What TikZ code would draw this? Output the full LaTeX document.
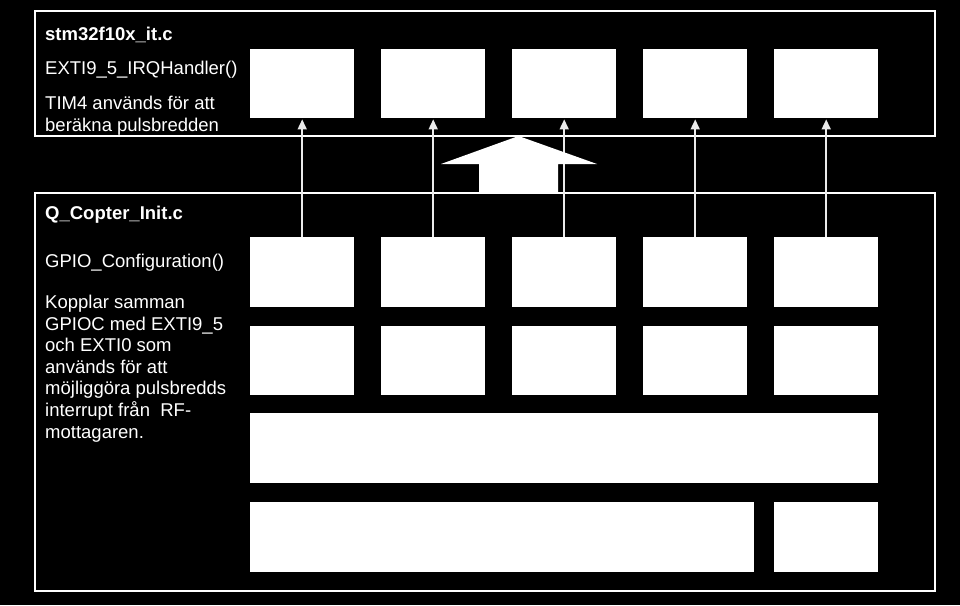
\documentclass[tikz,border=0pt]{standalone}
\usepackage{fontspec}
\setmainfont{Liberation Sans}
\usetikzlibrary{arrows.meta}
\begin{document}
\begin{tikzpicture}[x=1pt,y=-1pt,
  frame/.style={draw=white,line width=2pt},
  wbox/.style={fill=white,draw=none,inner sep=0pt,anchor=north west},
  lbl/.style={text=white,anchor=base west,inner sep=0pt,font=\fontsize{18.5}{21.6}\selectfont,align=left},
  conn/.style={draw=white!92!black,line width=1.6pt,-{Triangle[width=9pt,length=10pt]},shorten >=1pt}
]
\fill[black] (0,0) rectangle (960,605);
\useasboundingbox (0,0) rectangle (960,605);
% frames
\draw[frame] (35,11) rectangle (935,136);
\draw[frame] (35,193) rectangle (935,591);
% texts (base anchor of a multi-line node = baseline of its last line)
\node[lbl,font=\fontsize{18.5}{21.6}\selectfont\bfseries] (t1) at (45,40) {stm32f10x\_it.c};
\node[lbl] (t2) at (45,74) {EXTI9\_5\_IRQHandler()};
\node[lbl] (t3) at (45,131) {TIM4 används för att\\beräkna pulsbredden};
\node[lbl,font=\fontsize{18.5}{21.6}\selectfont\bfseries] (t4) at (45,219) {Q\_Copter\_Init.c};
\node[lbl] (t5) at (45,267) {GPIO\_Configuration()};
\node[lbl] (t6) at (45,438) {Kopplar samman\\GPIOC med EXTI9\_5\\och EXTI0 som\\används för att\\möjliggöra pulsbredds\\interrupt från\ \ RF-\\mottagaren.};
% boxes
\foreach \i/\x in {1/250,2/381,3/512,4/643,5/774}{
  \node[wbox,minimum width=104pt,minimum height=69pt] (u\i) at (\x,49) {};
  \node[wbox,minimum width=104pt,minimum height=70pt] (a\i) at (\x,237) {};
  \node[wbox,minimum width=104pt,minimum height=69pt] (b\i) at (\x,326) {};
}
\node[wbox,minimum width=628pt,minimum height=70pt] (c) at (250,413) {};
\node[wbox,minimum width=504pt,minimum height=70pt] (d1) at (250,502) {};
\node[wbox,minimum width=104pt,minimum height=70pt] (d2) at (774,502) {};
% connectors
\foreach \i in {1,...,5}{
  \draw[conn] (a\i.north) -- (u\i.south);
}
% big block arrow
\fill[white] (518.5,136) -- (597,164) -- (558,164) -- (558,193) -- (479,193) -- (479,164) -- (441,164) -- cycle;
\end{tikzpicture}
\end{document}
